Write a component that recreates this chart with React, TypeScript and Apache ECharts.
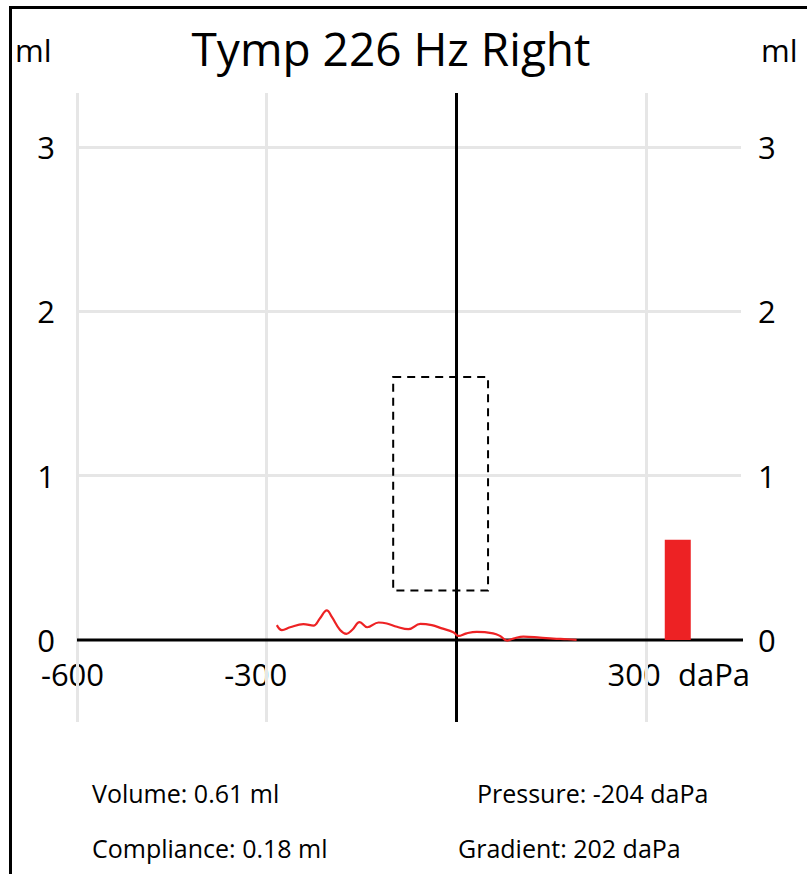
import React, { useEffect, useRef } from "react";
import * as echarts from "echarts";

const pressure = [-284, -276, -263, -242, -226, -216, -205, -197, -184, -174, -165, -153, -141, -123, -110, -94, -76, -57, -39, -23, -5, 3, 16, 32, 58, 69, 80, 90, 106, 132, 153, 175, 190];
const compliance = [0.09, 0.06, 0.077, 0.096, 0.087, 0.13, 0.18, 0.14, 0.06, 0.037, 0.06, 0.108, 0.077, 0.106, 0.1, 0.08, 0.065, 0.098, 0.09, 0.07, 0.047, 0.024, 0.04, 0.049, 0.04, 0.024, -0.004, 0.008, 0.02, 0.014, 0.008, 0.004, 0.0];
const volumeBar = [[350, 0.61]];
const normalBox = { pressureFrom: -100, pressureTo: 50, mlFrom: 0.3, mlTo: 1.6 };
const zeroLine = [[-600, 0], [462, 0]];
const xLabelValues = [-600, -300, 300];
const yLabelValues = [0, 1, 2, 3];
const gridX = [-600, -300, 300];
const gridY = [1, 2, 3];
const titleText = "Tymp 226 Hz Right";
const infoTexts = ["Volume: 0.61 ml", "Compliance: 0.18 ml", "Pressure: -204 daPa", "Gradient: 202 daPa"];

const FONT = "'Open Sans', sans-serif";

export default function App() {
  const ref = useRef<HTMLDivElement>(null);
  useEffect(() => {
    document.body.style.margin = "0";
    if (!ref.current) return;
    const chart = echarts.init(ref.current, null, { renderer: "svg" });
    const curve = pressure.map((p, i) => [p, compliance[i]]);
    const labelStyleName: Record<number, string> = { [-600]: "a", [-300]: "b", [300]: "c" };
    chart.setOption({
      animation: false,
      textStyle: { fontFamily: FONT },
      grid: { left: 77, right: 66, top: 93, bottom: 152, containLabel: false },
      xAxis: {
        type: "value",
        min: -600,
        max: 450,
        position: "bottom",
        offset: -82,
        splitLine: { show: false },
        axisTick: { show: false },
        axisLine: { show: false, onZero: false },
        axisLabel: {
          customValues: xLabelValues,
          margin: 18,
          color: "#000",
          fontSize: 31,
          fontFamily: FONT,
          formatter: (v: number) => `{${labelStyleName[v] || "c"}|${v}}`,
          rich: {
            a: { fontSize: 31, fontFamily: FONT, color: "#000", padding: [0, 9, 0, 0] },
            b: { fontSize: 31, fontFamily: FONT, color: "#000", padding: [0, 22, 0, 0] },
            c: { fontSize: 31, fontFamily: FONT, color: "#000", padding: [0, 24, 0, 0] },
          },
        },
      },
      yAxis: [
        {
          type: "value",
          min: -0.5,
          max: 3.33,
          position: "left",
          splitLine: { show: false },
          axisTick: { show: false },
          axisLine: { show: false },
          axisLabel: { customValues: yLabelValues, margin: 22, color: "#000", fontSize: 31, fontFamily: FONT },
        },
        {
          type: "value",
          min: -0.5,
          max: 3.33,
          position: "right",
          splitLine: { show: false },
          axisTick: { show: false },
          axisLine: { show: false },
          axisLabel: { customValues: yLabelValues, margin: 17, color: "#000", fontSize: 31, fontFamily: FONT },
        },
      ],
      series: [
        {
          name: "curve",
          type: "line",
          data: curve,
          smooth: 0.4,
          showSymbol: false,
          symbol: "none",
          z: 4,
          lineStyle: { color: "#ED2224", width: 2.2 },
          markLine: {
            silent: true,
            z: 1,
            symbol: ["none", "none"],
            label: { show: false },
            lineStyle: { color: "#e6e6e6", width: 3, type: "solid" },
            data: [...gridX.map((v) => ({ xAxis: v })), ...gridY.map((v) => ({ yAxis: v }))],
          },
          markArea: {
            silent: true,
            z: 5,
            itemStyle: { color: "rgba(0,0,0,0)", borderColor: "#000", borderWidth: 2, borderType: [8, 6] },
            data: [
              [
                { coord: [normalBox.pressureFrom, normalBox.mlTo] },
                { coord: [normalBox.pressureTo, normalBox.mlFrom] },
              ],
            ],
          },
        },
        {
          name: "zero",
          type: "line",
          data: zeroLine,
          clip: false,
          symbol: "none",
          z: 3,
          lineStyle: { color: "#000", width: 3 },
          markLine: {
            silent: true,
            z: 3,
            symbol: ["none", "none"],
            label: { show: false },
            lineStyle: { color: "#000", width: 3, type: "solid" },
            data: [{ xAxis: 0 }],
          },
        },
        {
          name: "volume",
          type: "bar",
          data: volumeBar,
          barWidth: 26,
          z: 4,
          itemStyle: { color: "#ED2224" },
        },
      ],
      graphic: [
        {
          type: "polyline",
          silent: true,
          shape: { points: [[10.5, 874], [10.5, 7.5], [807, 7.5]] },
          style: { stroke: "#000", lineWidth: 3, fill: "none" },
        },
        {
          type: "text",
          x: 391,
          y: 47.5,
          style: { text: titleText, font: `46px ${FONT}`, fill: "#000", textAlign: "center", textVerticalAlign: "middle" },
        },
        {
          type: "text",
          x: 15,
          y: 50,
          style: { text: "ml", font: `31px ${FONT}`, fill: "#000", textAlign: "left", textVerticalAlign: "middle" },
        },
        {
          type: "text",
          x: 761,
          y: 50,
          style: { text: "ml", font: `31px ${FONT}`, fill: "#000", textAlign: "left", textVerticalAlign: "middle" },
        },
        {
          type: "text",
          x: 678,
          y: 674,
          style: { text: "daPa", font: `31px ${FONT}`, fill: "#000", textAlign: "left", textVerticalAlign: "middle" },
        },
        {
          type: "text",
          x: 92,
          y: 792.5,
          style: { text: infoTexts[0], font: `25px ${FONT}`, fill: "#000", textAlign: "left", textVerticalAlign: "middle" },
        },
        {
          type: "text",
          x: 92,
          y: 847.5,
          style: { text: infoTexts[1], font: `25px ${FONT}`, fill: "#000", textAlign: "left", textVerticalAlign: "middle" },
        },
        {
          type: "text",
          x: 477,
          y: 792.5,
          style: { text: infoTexts[2], font: `25px ${FONT}`, fill: "#000", textAlign: "left", textVerticalAlign: "middle" },
        },
        {
          type: "text",
          x: 458,
          y: 847.5,
          style: { text: infoTexts[3], font: `25px ${FONT}`, fill: "#000", textAlign: "left", textVerticalAlign: "middle" },
        },
      ],
    });
    return () => chart.dispose();
  }, []);
  return <div ref={ref} style={{ width: 807, height: 874 }} />;
}
